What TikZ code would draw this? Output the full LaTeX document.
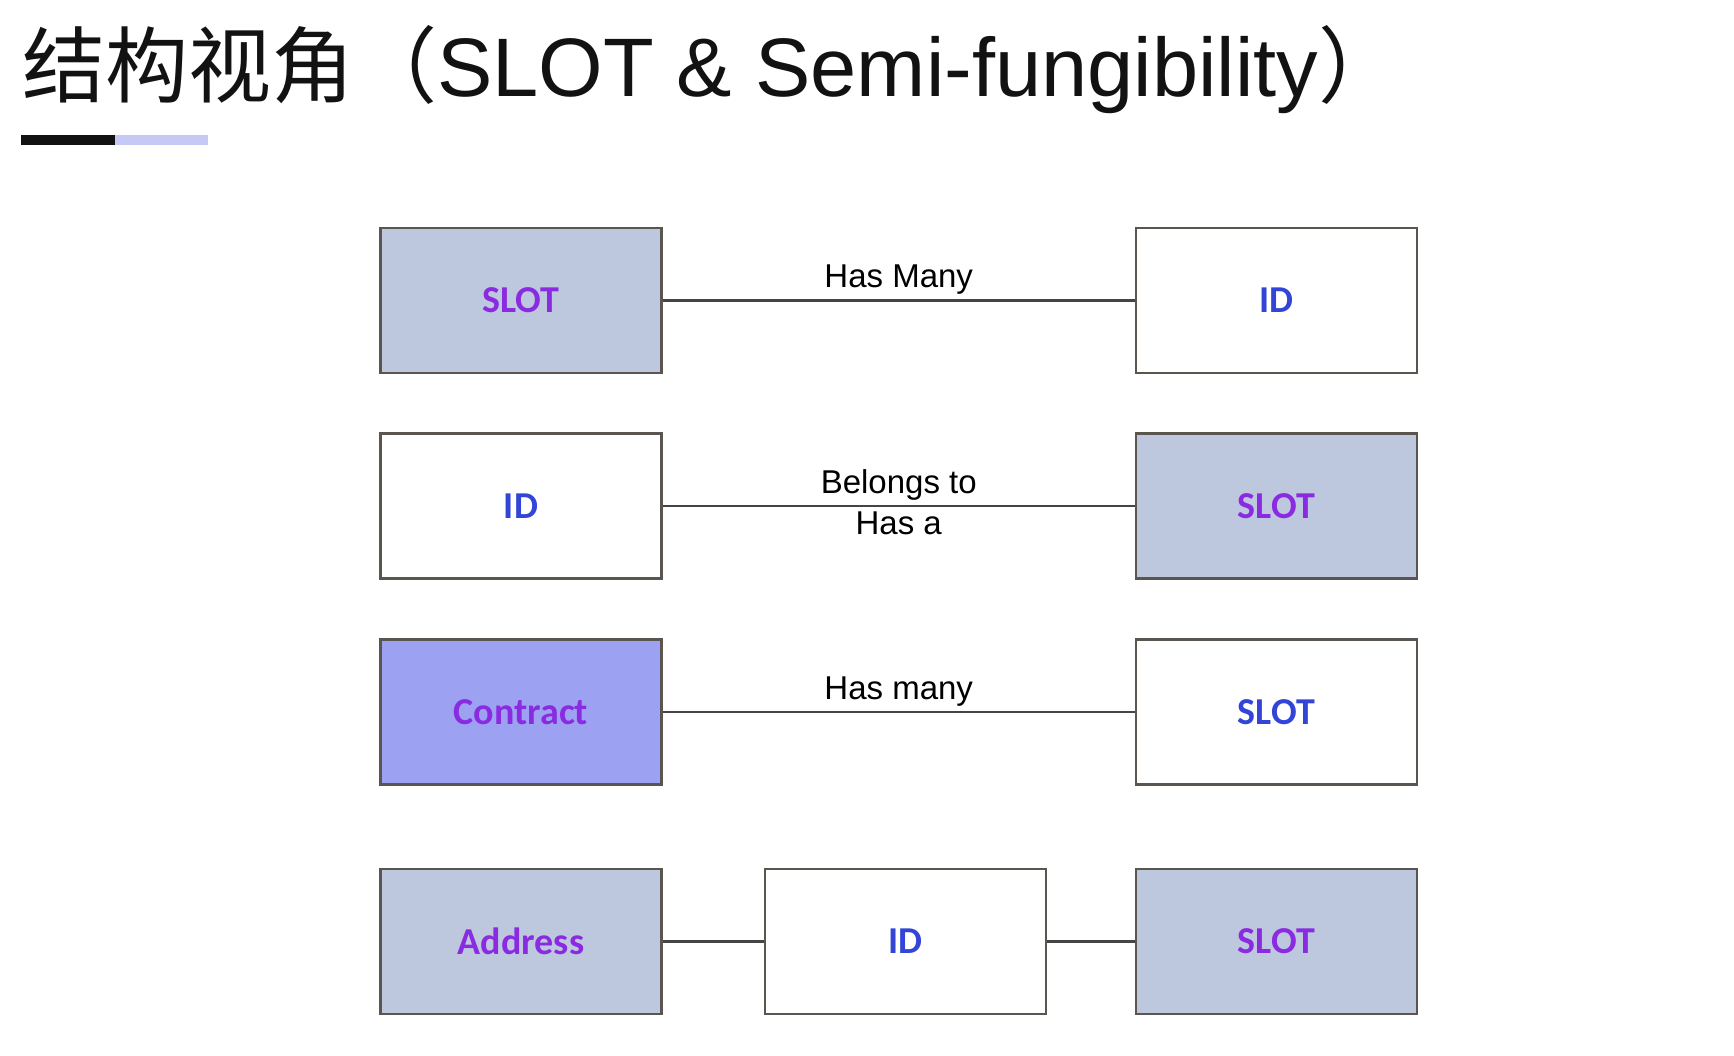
\documentclass[tikz,border=0pt]{standalone}
\usepackage{fontspec}
\setmainfont{Liberation Sans}
\newfontfamily\cjk{Noto Sans CJK SC}
\newfontfamily\boxfont{Carlito}
\definecolor{slotgrey}{HTML}{BDC8DF}
\definecolor{contractblue}{HTML}{9CA1F2}
\definecolor{labelpurple}{HTML}{8A2BE2}
\definecolor{labelblue}{HTML}{3345D6}
\definecolor{edgegrey}{HTML}{5A554E}
\definecolor{linkgrey}{HTML}{454545}
\definecolor{barlilac}{HTML}{C6C8F5}
\definecolor{titleblack}{HTML}{121212}
\begin{document}
\begin{tikzpicture}[x=1pt,y=-1pt,
	entity/.style={draw=edgegrey, line width=2.2pt, minimum width=281pt, minimum height=145pt, inner sep=0pt, font=\boxfont\bfseries\fontsize{38}{46}\selectfont},
	filled/.style={entity, fill=slotgrey, text=labelpurple},
	plain/.style={entity, fill=white, text=labelblue},
	link/.style={draw=linkgrey, line width=2.2pt},
	rel/.style={font=\fontsize{33}{40}\selectfont, inner sep=5pt}]
				\useasboundingbox (0,0) rectangle (1734,1056);
				\node [anchor=base west, at={(22,97)}, inner sep=0pt, text=titleblack, font=\fontsize{83}{100}\selectfont] (title) {{\cjk 结构视角（}SLOT \& Semi-fungibility{\cjk ）}};
				\fill[titleblack] (21,135) rectangle (115,145);
				\fill[barlilac] (115,135) rectangle (208,145);
				\node [filled, at={(521,300.5)}] (slotA) {SLOT};
				\node [plain, at={(1276.5,300.5)}] (idA) {ID};
				\node [plain, at={(521,506)}] (idB) {ID};
				\node [filled, at={(1276.5,506)}] (slotB) {SLOT};
				\node [filled, fill=contractblue, at={(521,712)}] (contract) {Contract};
				\node [plain, at={(1276.5,712)}] (slotC) {SLOT};
				\node [filled, at={(521,941.5)}] (address) {Address};
				\node [plain, at={(905.5,941.5)}] (idD) {ID};
				\node [filled, at={(1276.5,941.5)}] (slotD) {SLOT};
				\draw[link] (slotA)--(idA) node [midway,above,rel]{Has Many};
				\draw[link] (idB)--(slotB) node [midway,above,rel]{Belongs to} node [midway,below,rel]{Has a};
				\draw[link] (contract)--(slotC) node [midway,above,rel]{Has many};
				\draw[link] (address)--(idD);
				\draw[link] (idD)--(slotD);
				\end{tikzpicture}
\end{document}
